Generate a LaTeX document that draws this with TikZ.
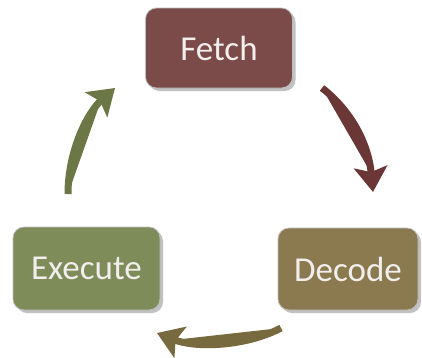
\documentclass[tikz,border=0pt]{standalone}
\usepackage{fontspec}
\setmainfont{Carlito}
\usetikzlibrary{arrows.meta,shadows}
\definecolor{fetchfill}{HTML}{7B4B49}
\definecolor{decodefill}{HTML}{8B7A4F}
\definecolor{execfill}{HTML}{7E8C5A}
\definecolor{fetcharrow}{HTML}{6B3636}
\definecolor{decodearrow}{HTML}{776A3E}
\definecolor{execarrow}{HTML}{6C7746}
\definecolor{boxtext}{HTML}{F2EEEC}
\tikzset{
  stage/.style={rectangle, rounded corners=11pt, draw=white!75!black, line width=0.8pt,
    text=boxtext, font=\fontsize{35}{40}\selectfont, inner sep=0pt,
    drop shadow={shadow xshift=3pt, shadow yshift=-3pt, fill=black!30, opacity=0.8}},
  cyclearrow/.style={line width=7pt, -{Stealth[length=25pt, width=33pt, inset=5pt]}}
}
\begin{document}
\begin{tikzpicture}[x=1pt, y=-1pt]
  \useasboundingbox (0,0) rectangle (422,357);
  \fill[white] (0,0) rectangle (422,357);
  % the three stages of the instruction cycle
  \node[stage, fill=fetchfill, minimum width=147pt, minimum height=80pt] (fetch) at (219,48) {Fetch};
  \node[stage, fill=decodefill, minimum width=140pt, minimum height=82pt] (decode) at (348,269) {Decode};
  \node[stage, fill=execfill, minimum width=147pt, minimum height=83pt] (execute) at (86.5,268.5) {Execute};
  % arrow end points around the cycle
  \coordinate (fd1) at (322,88);
  \coordinate (fd2) at (373,192);
  \coordinate (de1) at (281,328);
  \coordinate (de2) at (157,333);
  \coordinate (ef1) at (68,194);
  \coordinate (ef2) at (115,88);
  \draw[cyclearrow, draw=fetcharrow, fill=fetcharrow]
    (fd1) .. controls (348,108) and (368,140) .. (fd2);
  \draw[cyclearrow, draw=decodearrow, fill=decodearrow]
    (de1) .. controls (245,347) and (195,348) .. (de2);
  \draw[cyclearrow, draw=execarrow, fill=execarrow]
    (ef1) .. controls (68,150) and (88,112) .. (ef2);
\end{tikzpicture}
\end{document}
